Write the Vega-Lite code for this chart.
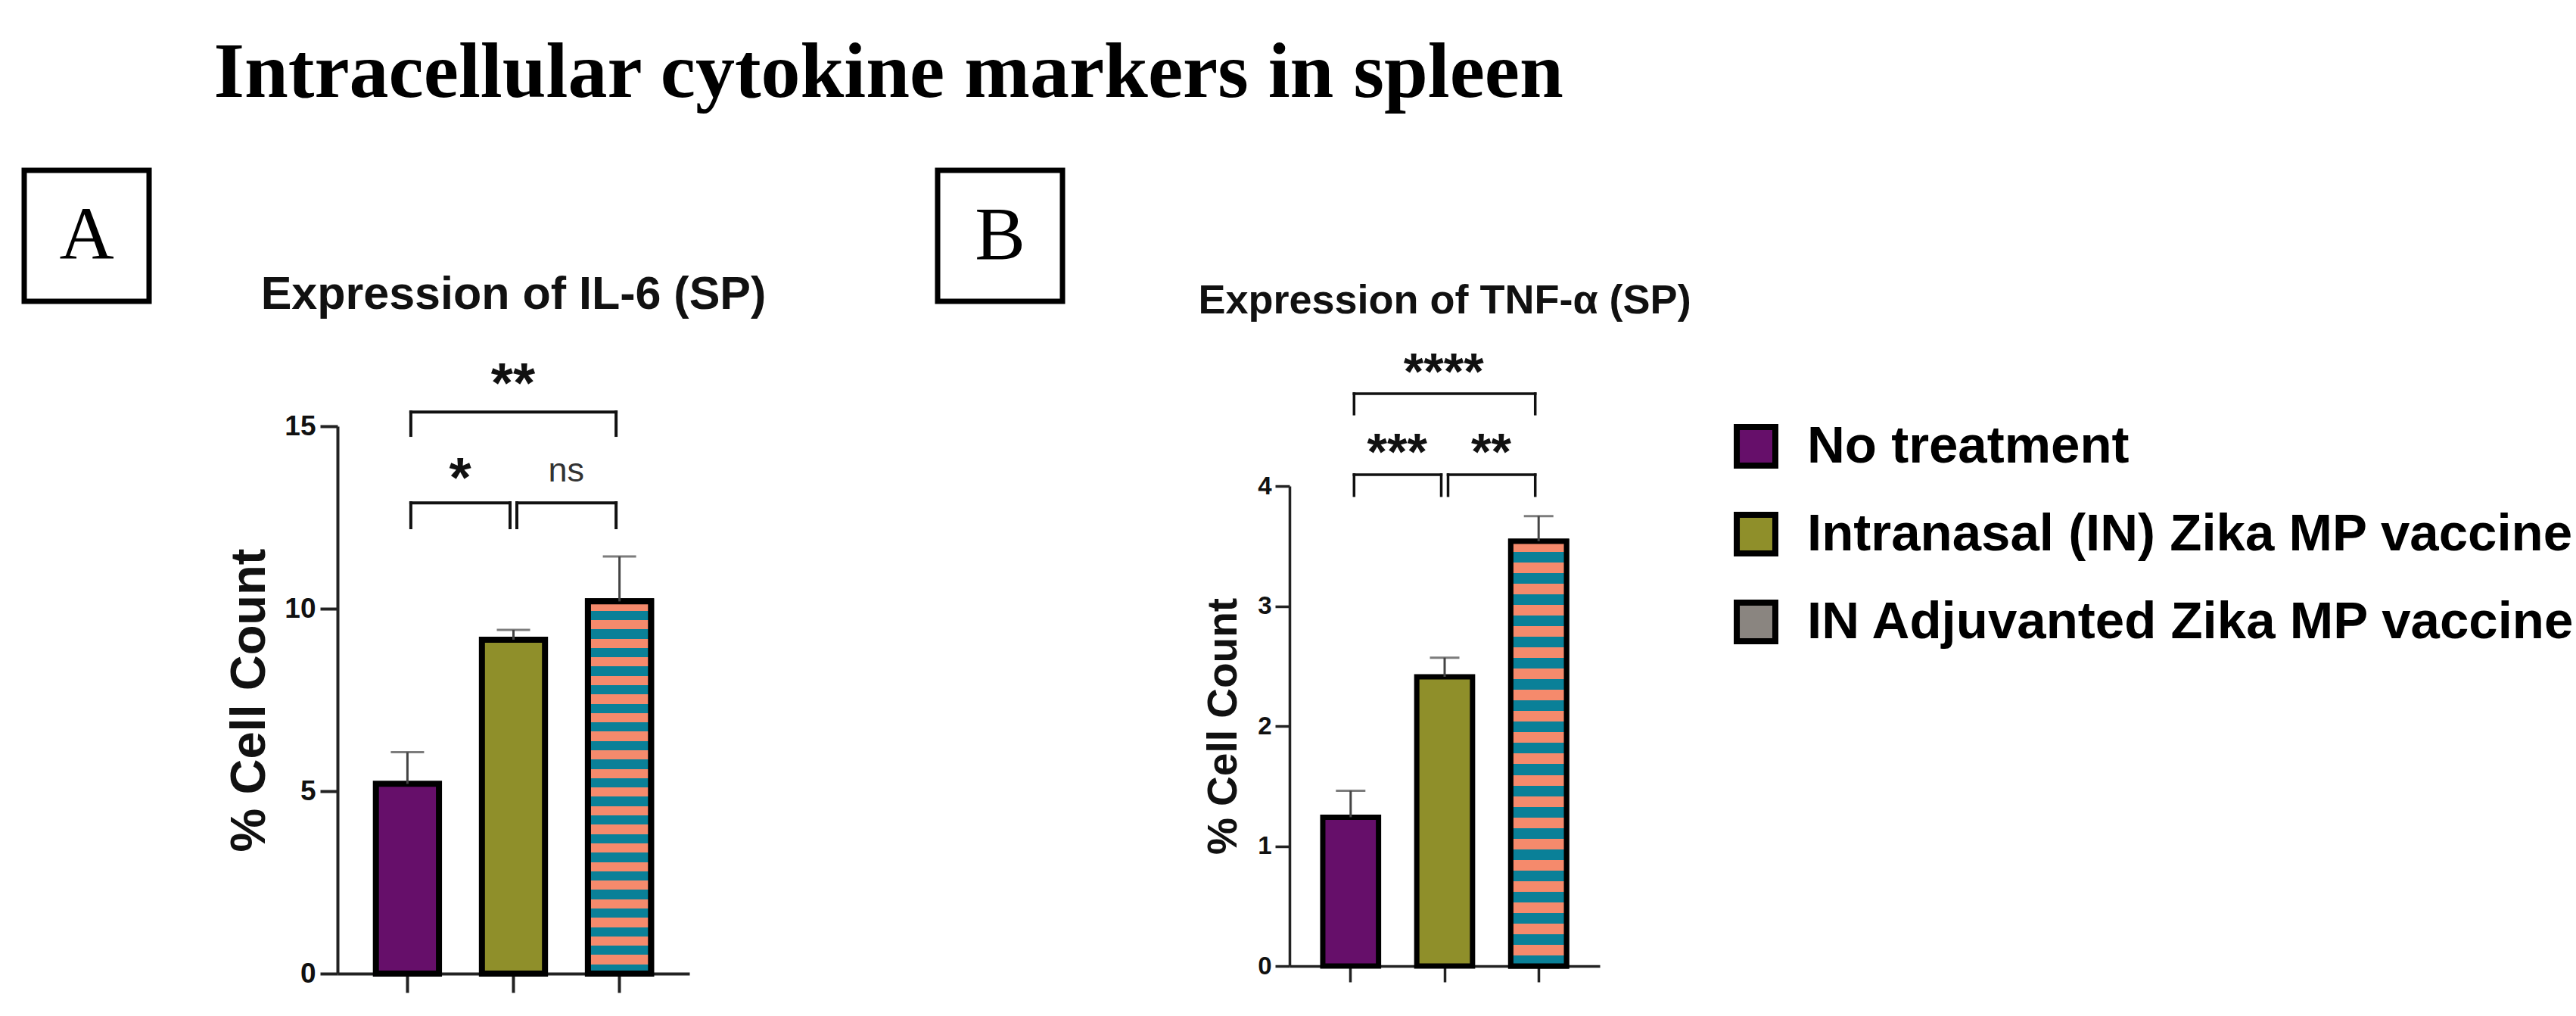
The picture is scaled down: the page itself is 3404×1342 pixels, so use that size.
{
  "$schema": "https://vega.github.io/schema/vega-lite/v6.json",
  "background": "white",
  "padding": {"left": 28, "top": 44, "right": 4, "bottom": 4},
  "config": {
    "view": {"stroke": null},
    "font": "Liberation Sans",
    "axis": {"grid": false, "labelFont": "Liberation Sans", "titleFont": "Liberation Sans", "labelColor": "#111", "titleColor": "#111", "domainColor": "#222", "tickColor": "#222"}
  },
  "title": {"text": "Intracellular cytokine markers in spleen", "font": "Liberation Serif", "fontSize": 104, "fontWeight": "bold", "color": "#000", "anchor": "start", "frame": "group", "dx": 250.5, "offset": 72},
  "datasets": {
    "barsA": [
      {"group": "No treatment", "mean": 5.2, "upper": 6.07},
      {"group": "Intranasal (IN) Zika MP vaccine", "mean": 9.15, "upper": 9.42},
      {"group": "IN Adjuvanted Zika MP vaccine", "mean": 10.2, "upper": 11.43}
    ],
    "barsB": [
      {"group": "No treatment", "mean": 1.24, "upper": 1.46},
      {"group": "Intranasal (IN) Zika MP vaccine", "mean": 2.41, "upper": 2.57},
      {"group": "IN Adjuvanted Zika MP vaccine", "mean": 3.54, "upper": 3.75}
    ],
    "brA": [
      {"g1": "No treatment", "g2": "Intranasal (IN) Zika MP vaccine", "y": 12.9, "lo": 12.22, "ty": 13.73, "label": "*", "span": 1},
      {"g1": "Intranasal (IN) Zika MP vaccine", "g2": "IN Adjuvanted Zika MP vaccine", "y": 12.9, "lo": 12.22, "ty": 13.73, "label": "ns", "span": 1},
      {"g1": "No treatment", "g2": "IN Adjuvanted Zika MP vaccine", "y": 15.39, "lo": 14.75, "ty": 16.33, "label": "**", "span": 2}
    ],
    "brB": [
      {"g1": "No treatment", "g2": "Intranasal (IN) Zika MP vaccine", "y": 4.095, "lo": 3.92, "ty": 4.33, "label": "***", "span": 1},
      {"g1": "Intranasal (IN) Zika MP vaccine", "g2": "IN Adjuvanted Zika MP vaccine", "y": 4.095, "lo": 3.92, "ty": 4.33, "label": "**", "span": 1},
      {"g1": "No treatment", "g2": "IN Adjuvanted Zika MP vaccine", "y": 4.77, "lo": 4.6, "ty": 5.0, "label": "****", "span": 2}
    ],
    "boxA": [{"label": "A"}],
    "boxB": [{"label": "B"}],
    "empty": []
  },
  "bounds": "flush",
  "spacing": 0,
  "hconcat": [
    {
      "width": 165, "height": 173,
      "view": {"stroke": "#000", "strokeWidth": 7},
      "data": {"name": "boxA"},
      "mark": {"type": "text", "font": "Liberation Serif", "fontSize": 100, "baseline": "middle", "align": "center", "color": "#000"},
      "encoding": {"text": {"field": "label"}}
    },
    {"width": 248.5, "height": 10, "data": {"name": "empty"}, "mark": "point"},
    {
      "bounds": "flush",
      "spacing": 0,
      "vconcat": [
        {"width": 10, "height": 337.5, "data": {"name": "empty"}, "mark": "point"},
        {
          "width": 465, "height": 723,
          "title": {"text": "Expression of IL-6 (SP)", "font": "Liberation Sans", "fontSize": 61, "fontWeight": "bold", "color": "#111", "anchor": "middle", "offset": 50},
          "layer": [
            {
              "data": {"name": "barsA"},
              "mark": {"type": "bar", "stroke": "#000", "strokeWidth": 8},
              "encoding": {
                "x": {"field": "group", "type": "nominal", "scale": {"domain": ["No treatment", "Intranasal (IN) Zika MP vaccine", "IN Adjuvanted Zika MP vaccine"], "paddingInner": 0.405, "paddingOuter": 0.362}, "axis": {"labels": false, "title": null, "tickSize": 25, "tickWidth": 4, "domainWidth": 4}},
                "y": {"field": "mean", "type": "quantitative", "scale": {"domain": [0, 15], "nice": false}, "axis": {"values": [0, 5, 10, 15], "tickSize": 23, "tickWidth": 4, "domainWidth": 4, "labelFontSize": 37, "labelFontWeight": "bold", "labelPadding": 6, "title": "% Cell Count", "titleFontSize": 65, "titleFontWeight": "bold", "titlePadding": 12}},
                "fill": {"field": "group", "type": "nominal", "scale": {"domain": ["No treatment", "Intranasal (IN) Zika MP vaccine", "IN Adjuvanted Zika MP vaccine"], "range": ["#660f6a", "#8f8f2a", "#8a8580"]},
                  "legend": {"orient": "none", "legendX": 2254, "legendY": 330, "title": null, "symbolType": "square", "symbolSize": 2600, "symbolStrokeColor": "#000", "symbolStrokeWidth": 8, "symbolOpacity": 1, "labelFontSize": 69, "labelFontWeight": "bold", "labelFont": "Liberation Sans", "labelColor": "#000", "labelOffset": 33, "rowPadding": 33, "padding": 0, "labelLimit": 0}}
              }
            },
            {
              "data": {"name": "barsA"},
              "transform": [{"filter": "datum.group == 'IN Adjuvanted Zika MP vaccine'"}],
              "mark": {"type": "bar", "stroke": "#000", "strokeWidth": 8, "fill": {"gradient": "linear", "x1": 0, "y1": 0, "x2": 0, "y2": 1, "stops": [
                {"offset": 0, "color": "#f58a6c"}, {"offset": 0.025, "color": "#f58a6c"}, {"offset": 0.025, "color": "#0a8098"}, {"offset": 0.05, "color": "#0a8098"},
                {"offset": 0.05, "color": "#f58a6c"}, {"offset": 0.075, "color": "#f58a6c"}, {"offset": 0.075, "color": "#0a8098"}, {"offset": 0.1, "color": "#0a8098"},
                {"offset": 0.1, "color": "#f58a6c"}, {"offset": 0.125, "color": "#f58a6c"}, {"offset": 0.125, "color": "#0a8098"}, {"offset": 0.15, "color": "#0a8098"},
                {"offset": 0.15, "color": "#f58a6c"}, {"offset": 0.175, "color": "#f58a6c"}, {"offset": 0.175, "color": "#0a8098"}, {"offset": 0.2, "color": "#0a8098"},
                {"offset": 0.2, "color": "#f58a6c"}, {"offset": 0.225, "color": "#f58a6c"}, {"offset": 0.225, "color": "#0a8098"}, {"offset": 0.25, "color": "#0a8098"},
                {"offset": 0.25, "color": "#f58a6c"}, {"offset": 0.275, "color": "#f58a6c"}, {"offset": 0.275, "color": "#0a8098"}, {"offset": 0.3, "color": "#0a8098"},
                {"offset": 0.3, "color": "#f58a6c"}, {"offset": 0.325, "color": "#f58a6c"}, {"offset": 0.325, "color": "#0a8098"}, {"offset": 0.35, "color": "#0a8098"},
                {"offset": 0.35, "color": "#f58a6c"}, {"offset": 0.375, "color": "#f58a6c"}, {"offset": 0.375, "color": "#0a8098"}, {"offset": 0.4, "color": "#0a8098"},
                {"offset": 0.4, "color": "#f58a6c"}, {"offset": 0.425, "color": "#f58a6c"}, {"offset": 0.425, "color": "#0a8098"}, {"offset": 0.45, "color": "#0a8098"},
                {"offset": 0.45, "color": "#f58a6c"}, {"offset": 0.475, "color": "#f58a6c"}, {"offset": 0.475, "color": "#0a8098"}, {"offset": 0.5, "color": "#0a8098"},
                {"offset": 0.5, "color": "#f58a6c"}, {"offset": 0.525, "color": "#f58a6c"}, {"offset": 0.525, "color": "#0a8098"}, {"offset": 0.55, "color": "#0a8098"},
                {"offset": 0.55, "color": "#f58a6c"}, {"offset": 0.575, "color": "#f58a6c"}, {"offset": 0.575, "color": "#0a8098"}, {"offset": 0.6, "color": "#0a8098"},
                {"offset": 0.6, "color": "#f58a6c"}, {"offset": 0.625, "color": "#f58a6c"}, {"offset": 0.625, "color": "#0a8098"}, {"offset": 0.65, "color": "#0a8098"},
                {"offset": 0.65, "color": "#f58a6c"}, {"offset": 0.675, "color": "#f58a6c"}, {"offset": 0.675, "color": "#0a8098"}, {"offset": 0.7, "color": "#0a8098"},
                {"offset": 0.7, "color": "#f58a6c"}, {"offset": 0.725, "color": "#f58a6c"}, {"offset": 0.725, "color": "#0a8098"}, {"offset": 0.75, "color": "#0a8098"},
                {"offset": 0.75, "color": "#f58a6c"}, {"offset": 0.775, "color": "#f58a6c"}, {"offset": 0.775, "color": "#0a8098"}, {"offset": 0.8, "color": "#0a8098"},
                {"offset": 0.8, "color": "#f58a6c"}, {"offset": 0.825, "color": "#f58a6c"}, {"offset": 0.825, "color": "#0a8098"}, {"offset": 0.85, "color": "#0a8098"},
                {"offset": 0.85, "color": "#f58a6c"}, {"offset": 0.875, "color": "#f58a6c"}, {"offset": 0.875, "color": "#0a8098"}, {"offset": 0.9, "color": "#0a8098"},
                {"offset": 0.9, "color": "#f58a6c"}, {"offset": 0.925, "color": "#f58a6c"}, {"offset": 0.925, "color": "#0a8098"}, {"offset": 0.95, "color": "#0a8098"},
                {"offset": 0.95, "color": "#f58a6c"}, {"offset": 0.975, "color": "#f58a6c"}, {"offset": 0.975, "color": "#0a8098"}, {"offset": 1, "color": "#0a8098"}
              ]}},
              "encoding": {
                "x": {"field": "group", "type": "nominal", "scale": {"domain": ["No treatment", "Intranasal (IN) Zika MP vaccine", "IN Adjuvanted Zika MP vaccine"], "paddingInner": 0.405, "paddingOuter": 0.362}, "axis": {"labels": false, "title": null, "tickSize": 25, "tickWidth": 4, "domainWidth": 4}},
                "y": {"field": "mean", "type": "quantitative", "scale": {"domain": [0, 15], "nice": false}, "axis": {"values": [0, 5, 10, 15], "tickSize": 23, "tickWidth": 4, "domainWidth": 4, "labelFontSize": 37, "labelFontWeight": "bold", "labelPadding": 6, "title": "% Cell Count", "titleFontSize": 65, "titleFontWeight": "bold", "titlePadding": 12}}
              }
            },
            {
              "data": {"name": "barsA"},
              "mark": {"type": "rule", "strokeWidth": 3, "color": "#444"},
              "encoding": {
                "x": {"field": "group", "type": "nominal", "scale": {"domain": ["No treatment", "Intranasal (IN) Zika MP vaccine", "IN Adjuvanted Zika MP vaccine"], "paddingInner": 0.405, "paddingOuter": 0.362}, "axis": {"labels": false, "title": null, "tickSize": 25, "tickWidth": 4, "domainWidth": 4}},
                "y": {"field": "mean", "type": "quantitative", "scale": {"domain": [0, 15], "nice": false}, "axis": {"values": [0, 5, 10, 15], "tickSize": 23, "tickWidth": 4, "domainWidth": 4, "labelFontSize": 37, "labelFontWeight": "bold", "labelPadding": 6, "title": "% Cell Count", "titleFontSize": 65, "titleFontWeight": "bold", "titlePadding": 12}},
                "y2": {"field": "upper"}
              }
            },
            {
              "data": {"name": "barsA"},
              "mark": {"type": "tick", "size": 44, "thickness": 3, "color": "#444"},
              "encoding": {
                "x": {"field": "group", "type": "nominal", "scale": {"domain": ["No treatment", "Intranasal (IN) Zika MP vaccine", "IN Adjuvanted Zika MP vaccine"], "paddingInner": 0.405, "paddingOuter": 0.362}, "axis": {"labels": false, "title": null, "tickSize": 25, "tickWidth": 4, "domainWidth": 4}},
                "y": {"field": "upper", "type": "quantitative", "scale": {"domain": [0, 15], "nice": false}, "axis": {"values": [0, 5, 10, 15], "tickSize": 23, "tickWidth": 4, "domainWidth": 4, "labelFontSize": 37, "labelFontWeight": "bold", "labelPadding": 6, "title": "% Cell Count", "titleFontSize": 65, "titleFontWeight": "bold", "titlePadding": 12}}
              }
            },
            {
              "data": {"name": "brA"},
              "mark": {"type": "rule", "strokeWidth": 4, "color": "#111", "strokeCap": "square", "xOffset": 4.5, "x2Offset": -4.5},
              "encoding": {
                "x": {"field": "g1", "type": "nominal", "scale": {"domain": ["No treatment", "Intranasal (IN) Zika MP vaccine", "IN Adjuvanted Zika MP vaccine"], "paddingInner": 0.405, "paddingOuter": 0.362}, "axis": {"labels": false, "title": null, "tickSize": 25, "tickWidth": 4, "domainWidth": 4}},
                "x2": {"field": "g2"},
                "y": {"field": "y", "type": "quantitative", "scale": {"domain": [0, 15], "nice": false}, "axis": {"values": [0, 5, 10, 15], "tickSize": 23, "tickWidth": 4, "domainWidth": 4, "labelFontSize": 37, "labelFontWeight": "bold", "labelPadding": 6, "title": "% Cell Count", "titleFontSize": 65, "titleFontWeight": "bold", "titlePadding": 12}}
              }
            },
            {
              "data": {"name": "brA"},
              "mark": {"type": "rule", "strokeWidth": 4, "color": "#111", "strokeCap": "square", "xOffset": 4.5},
              "encoding": {
                "x": {"field": "g1", "type": "nominal", "scale": {"domain": ["No treatment", "Intranasal (IN) Zika MP vaccine", "IN Adjuvanted Zika MP vaccine"], "paddingInner": 0.405, "paddingOuter": 0.362}, "axis": {"labels": false, "title": null, "tickSize": 25, "tickWidth": 4, "domainWidth": 4}},
                "y": {"field": "lo", "type": "quantitative", "scale": {"domain": [0, 15], "nice": false}, "axis": {"values": [0, 5, 10, 15], "tickSize": 23, "tickWidth": 4, "domainWidth": 4, "labelFontSize": 37, "labelFontWeight": "bold", "labelPadding": 6, "title": "% Cell Count", "titleFontSize": 65, "titleFontWeight": "bold", "titlePadding": 12}},
                "y2": {"field": "y"}
              }
            },
            {
              "data": {"name": "brA"},
              "mark": {"type": "rule", "strokeWidth": 4, "color": "#111", "strokeCap": "square", "xOffset": -4.5},
              "encoding": {
                "x": {"field": "g2", "type": "nominal", "scale": {"domain": ["No treatment", "Intranasal (IN) Zika MP vaccine", "IN Adjuvanted Zika MP vaccine"], "paddingInner": 0.405, "paddingOuter": 0.362}, "axis": {"labels": false, "title": null, "tickSize": 25, "tickWidth": 4, "domainWidth": 4}},
                "y": {"field": "lo", "type": "quantitative", "scale": {"domain": [0, 15], "nice": false}, "axis": {"values": [0, 5, 10, 15], "tickSize": 23, "tickWidth": 4, "domainWidth": 4, "labelFontSize": 37, "labelFontWeight": "bold", "labelPadding": 6, "title": "% Cell Count", "titleFontSize": 65, "titleFontWeight": "bold", "titlePadding": 12}},
                "y2": {"field": "y"}
              }
            },
            {
              "data": {"name": "brA"},
              "transform": [{"filter": "datum.span == 1 && datum.label != 'ns'"}],
              "mark": {"type": "text", "fontSize": 75, "fontWeight": "bold", "color": "#111", "align": "center", "baseline": "alphabetic", "dy": 32, "xOffset": 69.75},
              "encoding": {
                "x": {"field": "g1", "type": "nominal", "scale": {"domain": ["No treatment", "Intranasal (IN) Zika MP vaccine", "IN Adjuvanted Zika MP vaccine"], "paddingInner": 0.405, "paddingOuter": 0.362}, "axis": {"labels": false, "title": null, "tickSize": 25, "tickWidth": 4, "domainWidth": 4}},
                "y": {"field": "ty", "type": "quantitative", "scale": {"domain": [0, 15], "nice": false}, "axis": {"values": [0, 5, 10, 15], "tickSize": 23, "tickWidth": 4, "domainWidth": 4, "labelFontSize": 37, "labelFontWeight": "bold", "labelPadding": 6, "title": "% Cell Count", "titleFontSize": 65, "titleFontWeight": "bold", "titlePadding": 12}},
                "text": {"field": "label"}
              }
            },
            {
              "data": {"name": "brA"},
              "transform": [{"filter": "datum.label == 'ns'"}],
              "mark": {"type": "text", "fontSize": 45, "fontWeight": "normal", "color": "#333", "align": "center", "baseline": "alphabetic", "dy": 12, "xOffset": 69.75},
              "encoding": {
                "x": {"field": "g1", "type": "nominal", "scale": {"domain": ["No treatment", "Intranasal (IN) Zika MP vaccine", "IN Adjuvanted Zika MP vaccine"], "paddingInner": 0.405, "paddingOuter": 0.362}, "axis": {"labels": false, "title": null, "tickSize": 25, "tickWidth": 4, "domainWidth": 4}},
                "y": {"field": "ty", "type": "quantitative", "scale": {"domain": [0, 15], "nice": false}, "axis": {"values": [0, 5, 10, 15], "tickSize": 23, "tickWidth": 4, "domainWidth": 4, "labelFontSize": 37, "labelFontWeight": "bold", "labelPadding": 6, "title": "% Cell Count", "titleFontSize": 65, "titleFontWeight": "bold", "titlePadding": 12}},
                "text": {"field": "label"}
              }
            },
            {
              "data": {"name": "brA"},
              "transform": [{"filter": "datum.span == 2"}],
              "mark": {"type": "text", "fontSize": 75, "fontWeight": "bold", "color": "#111", "align": "center", "baseline": "alphabetic", "dy": 32, "xOffset": 139.5},
              "encoding": {
                "x": {"field": "g1", "type": "nominal", "scale": {"domain": ["No treatment", "Intranasal (IN) Zika MP vaccine", "IN Adjuvanted Zika MP vaccine"], "paddingInner": 0.405, "paddingOuter": 0.362}, "axis": {"labels": false, "title": null, "tickSize": 25, "tickWidth": 4, "domainWidth": 4}},
                "y": {"field": "ty", "type": "quantitative", "scale": {"domain": [0, 15], "nice": false}, "axis": {"values": [0, 5, 10, 15], "tickSize": 23, "tickWidth": 4, "domainWidth": 4, "labelFontSize": 37, "labelFontWeight": "bold", "labelPadding": 6, "title": "% Cell Count", "titleFontSize": 65, "titleFontWeight": "bold", "titlePadding": 12}},
                "text": {"field": "label"}
              }
            }
          ]
        }
      ]
    },
    {"width": 792.5, "height": 10, "data": {"name": "empty"}, "mark": "point"},
    {
      "width": 165, "height": 173,
      "view": {"stroke": "#000", "strokeWidth": 7},
      "data": {"name": "boxB"},
      "mark": {"type": "text", "font": "Liberation Serif", "fontSize": 100, "baseline": "middle", "align": "center", "color": "#000"},
      "encoding": {"text": {"field": "label"}}
    },
    {"width": 299.5, "height": 10, "data": {"name": "empty"}, "mark": "point"},
    {
      "bounds": "flush",
      "spacing": 0,
      "vconcat": [
        {"width": 10, "height": 416.5, "data": {"name": "empty"}, "mark": "point"},
        {
          "width": 410, "height": 634,
          "title": {"text": "Expression of TNF-α (SP)", "font": "Liberation Sans", "fontSize": 54, "fontWeight": "bold", "color": "#111", "anchor": "middle", "offset": 35},
          "layer": [
            {
              "data": {"name": "barsB"},
              "mark": {"type": "bar", "stroke": "#000", "strokeWidth": 7},
              "encoding": {
                "x": {"field": "group", "type": "nominal", "scale": {"domain": ["No treatment", "Intranasal (IN) Zika MP vaccine", "IN Adjuvanted Zika MP vaccine"], "paddingInner": 0.407, "paddingOuter": 0.354}, "axis": {"labels": false, "title": null, "tickSize": 21, "tickWidth": 3.5, "domainWidth": 3.5}},
                "y": {"field": "mean", "type": "quantitative", "scale": {"domain": [0, 4], "nice": false}, "axis": {"values": [0, 1, 2, 3, 4], "tickSize": 19, "tickWidth": 3.5, "domainWidth": 3.5, "labelFontSize": 33, "labelFontWeight": "bold", "labelPadding": 5, "title": "% Cell Count", "titleFontSize": 55, "titleFontWeight": "bold", "titlePadding": 16}},
                "fill": {"field": "group", "type": "nominal", "scale": {"domain": ["No treatment", "Intranasal (IN) Zika MP vaccine", "IN Adjuvanted Zika MP vaccine"], "range": ["#660f6a", "#8f8f2a", "#8a8580"]},
                  "legend": {"orient": "none", "legendX": 2254, "legendY": 330, "title": null, "symbolType": "square", "symbolSize": 2600, "symbolStrokeColor": "#000", "symbolStrokeWidth": 8, "symbolOpacity": 1, "labelFontSize": 69, "labelFontWeight": "bold", "labelFont": "Liberation Sans", "labelColor": "#000", "labelOffset": 33, "rowPadding": 33, "padding": 0, "labelLimit": 0}}
              }
            },
            {
              "data": {"name": "barsB"},
              "transform": [{"filter": "datum.group == 'IN Adjuvanted Zika MP vaccine'"}],
              "mark": {"type": "bar", "stroke": "#000", "strokeWidth": 7, "fill": {"gradient": "linear", "x1": 0, "y1": 0, "x2": 0, "y2": 1, "stops": [
                {"offset": 0, "color": "#f58a6c"}, {"offset": 0.025, "color": "#f58a6c"}, {"offset": 0.025, "color": "#0a8098"}, {"offset": 0.05, "color": "#0a8098"},
                {"offset": 0.05, "color": "#f58a6c"}, {"offset": 0.075, "color": "#f58a6c"}, {"offset": 0.075, "color": "#0a8098"}, {"offset": 0.1, "color": "#0a8098"},
                {"offset": 0.1, "color": "#f58a6c"}, {"offset": 0.125, "color": "#f58a6c"}, {"offset": 0.125, "color": "#0a8098"}, {"offset": 0.15, "color": "#0a8098"},
                {"offset": 0.15, "color": "#f58a6c"}, {"offset": 0.175, "color": "#f58a6c"}, {"offset": 0.175, "color": "#0a8098"}, {"offset": 0.2, "color": "#0a8098"},
                {"offset": 0.2, "color": "#f58a6c"}, {"offset": 0.225, "color": "#f58a6c"}, {"offset": 0.225, "color": "#0a8098"}, {"offset": 0.25, "color": "#0a8098"},
                {"offset": 0.25, "color": "#f58a6c"}, {"offset": 0.275, "color": "#f58a6c"}, {"offset": 0.275, "color": "#0a8098"}, {"offset": 0.3, "color": "#0a8098"},
                {"offset": 0.3, "color": "#f58a6c"}, {"offset": 0.325, "color": "#f58a6c"}, {"offset": 0.325, "color": "#0a8098"}, {"offset": 0.35, "color": "#0a8098"},
                {"offset": 0.35, "color": "#f58a6c"}, {"offset": 0.375, "color": "#f58a6c"}, {"offset": 0.375, "color": "#0a8098"}, {"offset": 0.4, "color": "#0a8098"},
                {"offset": 0.4, "color": "#f58a6c"}, {"offset": 0.425, "color": "#f58a6c"}, {"offset": 0.425, "color": "#0a8098"}, {"offset": 0.45, "color": "#0a8098"},
                {"offset": 0.45, "color": "#f58a6c"}, {"offset": 0.475, "color": "#f58a6c"}, {"offset": 0.475, "color": "#0a8098"}, {"offset": 0.5, "color": "#0a8098"},
                {"offset": 0.5, "color": "#f58a6c"}, {"offset": 0.525, "color": "#f58a6c"}, {"offset": 0.525, "color": "#0a8098"}, {"offset": 0.55, "color": "#0a8098"},
                {"offset": 0.55, "color": "#f58a6c"}, {"offset": 0.575, "color": "#f58a6c"}, {"offset": 0.575, "color": "#0a8098"}, {"offset": 0.6, "color": "#0a8098"},
                {"offset": 0.6, "color": "#f58a6c"}, {"offset": 0.625, "color": "#f58a6c"}, {"offset": 0.625, "color": "#0a8098"}, {"offset": 0.65, "color": "#0a8098"},
                {"offset": 0.65, "color": "#f58a6c"}, {"offset": 0.675, "color": "#f58a6c"}, {"offset": 0.675, "color": "#0a8098"}, {"offset": 0.7, "color": "#0a8098"},
                {"offset": 0.7, "color": "#f58a6c"}, {"offset": 0.725, "color": "#f58a6c"}, {"offset": 0.725, "color": "#0a8098"}, {"offset": 0.75, "color": "#0a8098"},
                {"offset": 0.75, "color": "#f58a6c"}, {"offset": 0.775, "color": "#f58a6c"}, {"offset": 0.775, "color": "#0a8098"}, {"offset": 0.8, "color": "#0a8098"},
                {"offset": 0.8, "color": "#f58a6c"}, {"offset": 0.825, "color": "#f58a6c"}, {"offset": 0.825, "color": "#0a8098"}, {"offset": 0.85, "color": "#0a8098"},
                {"offset": 0.85, "color": "#f58a6c"}, {"offset": 0.875, "color": "#f58a6c"}, {"offset": 0.875, "color": "#0a8098"}, {"offset": 0.9, "color": "#0a8098"},
                {"offset": 0.9, "color": "#f58a6c"}, {"offset": 0.925, "color": "#f58a6c"}, {"offset": 0.925, "color": "#0a8098"}, {"offset": 0.95, "color": "#0a8098"},
                {"offset": 0.95, "color": "#f58a6c"}, {"offset": 0.975, "color": "#f58a6c"}, {"offset": 0.975, "color": "#0a8098"}, {"offset": 1, "color": "#0a8098"}
              ]}},
              "encoding": {
                "x": {"field": "group", "type": "nominal", "scale": {"domain": ["No treatment", "Intranasal (IN) Zika MP vaccine", "IN Adjuvanted Zika MP vaccine"], "paddingInner": 0.407, "paddingOuter": 0.354}, "axis": {"labels": false, "title": null, "tickSize": 21, "tickWidth": 3.5, "domainWidth": 3.5}},
                "y": {"field": "mean", "type": "quantitative", "scale": {"domain": [0, 4], "nice": false}, "axis": {"values": [0, 1, 2, 3, 4], "tickSize": 19, "tickWidth": 3.5, "domainWidth": 3.5, "labelFontSize": 33, "labelFontWeight": "bold", "labelPadding": 5, "title": "% Cell Count", "titleFontSize": 55, "titleFontWeight": "bold", "titlePadding": 16}}
              }
            },
            {
              "data": {"name": "barsB"},
              "mark": {"type": "rule", "strokeWidth": 3, "color": "#444"},
              "encoding": {
                "x": {"field": "group", "type": "nominal", "scale": {"domain": ["No treatment", "Intranasal (IN) Zika MP vaccine", "IN Adjuvanted Zika MP vaccine"], "paddingInner": 0.407, "paddingOuter": 0.354}, "axis": {"labels": false, "title": null, "tickSize": 21, "tickWidth": 3.5, "domainWidth": 3.5}},
                "y": {"field": "mean", "type": "quantitative", "scale": {"domain": [0, 4], "nice": false}, "axis": {"values": [0, 1, 2, 3, 4], "tickSize": 19, "tickWidth": 3.5, "domainWidth": 3.5, "labelFontSize": 33, "labelFontWeight": "bold", "labelPadding": 5, "title": "% Cell Count", "titleFontSize": 55, "titleFontWeight": "bold", "titlePadding": 16}},
                "y2": {"field": "upper"}
              }
            },
            {
              "data": {"name": "barsB"},
              "mark": {"type": "tick", "size": 39, "thickness": 3, "color": "#444"},
              "encoding": {
                "x": {"field": "group", "type": "nominal", "scale": {"domain": ["No treatment", "Intranasal (IN) Zika MP vaccine", "IN Adjuvanted Zika MP vaccine"], "paddingInner": 0.407, "paddingOuter": 0.354}, "axis": {"labels": false, "title": null, "tickSize": 21, "tickWidth": 3.5, "domainWidth": 3.5}},
                "y": {"field": "upper", "type": "quantitative", "scale": {"domain": [0, 4], "nice": false}, "axis": {"values": [0, 1, 2, 3, 4], "tickSize": 19, "tickWidth": 3.5, "domainWidth": 3.5, "labelFontSize": 33, "labelFontWeight": "bold", "labelPadding": 5, "title": "% Cell Count", "titleFontSize": 55, "titleFontWeight": "bold", "titlePadding": 16}}
              }
            },
            {
              "data": {"name": "brB"},
              "mark": {"type": "rule", "strokeWidth": 3.5, "color": "#111", "strokeCap": "square", "xOffset": 4.5, "x2Offset": -4.5},
              "encoding": {
                "x": {"field": "g1", "type": "nominal", "scale": {"domain": ["No treatment", "Intranasal (IN) Zika MP vaccine", "IN Adjuvanted Zika MP vaccine"], "paddingInner": 0.407, "paddingOuter": 0.354}, "axis": {"labels": false, "title": null, "tickSize": 21, "tickWidth": 3.5, "domainWidth": 3.5}},
                "x2": {"field": "g2"},
                "y": {"field": "y", "type": "quantitative", "scale": {"domain": [0, 4], "nice": false}, "axis": {"values": [0, 1, 2, 3, 4], "tickSize": 19, "tickWidth": 3.5, "domainWidth": 3.5, "labelFontSize": 33, "labelFontWeight": "bold", "labelPadding": 5, "title": "% Cell Count", "titleFontSize": 55, "titleFontWeight": "bold", "titlePadding": 16}}
              }
            },
            {
              "data": {"name": "brB"},
              "mark": {"type": "rule", "strokeWidth": 3.5, "color": "#111", "strokeCap": "square", "xOffset": 4.5},
              "encoding": {
                "x": {"field": "g1", "type": "nominal", "scale": {"domain": ["No treatment", "Intranasal (IN) Zika MP vaccine", "IN Adjuvanted Zika MP vaccine"], "paddingInner": 0.407, "paddingOuter": 0.354}, "axis": {"labels": false, "title": null, "tickSize": 21, "tickWidth": 3.5, "domainWidth": 3.5}},
                "y": {"field": "lo", "type": "quantitative", "scale": {"domain": [0, 4], "nice": false}, "axis": {"values": [0, 1, 2, 3, 4], "tickSize": 19, "tickWidth": 3.5, "domainWidth": 3.5, "labelFontSize": 33, "labelFontWeight": "bold", "labelPadding": 5, "title": "% Cell Count", "titleFontSize": 55, "titleFontWeight": "bold", "titlePadding": 16}},
                "y2": {"field": "y"}
              }
            },
            {
              "data": {"name": "brB"},
              "mark": {"type": "rule", "strokeWidth": 3.5, "color": "#111", "strokeCap": "square", "xOffset": -4.5},
              "encoding": {
                "x": {"field": "g2", "type": "nominal", "scale": {"domain": ["No treatment", "Intranasal (IN) Zika MP vaccine", "IN Adjuvanted Zika MP vaccine"], "paddingInner": 0.407, "paddingOuter": 0.354}, "axis": {"labels": false, "title": null, "tickSize": 21, "tickWidth": 3.5, "domainWidth": 3.5}},
                "y": {"field": "lo", "type": "quantitative", "scale": {"domain": [0, 4], "nice": false}, "axis": {"values": [0, 1, 2, 3, 4], "tickSize": 19, "tickWidth": 3.5, "domainWidth": 3.5, "labelFontSize": 33, "labelFontWeight": "bold", "labelPadding": 5, "title": "% Cell Count", "titleFontSize": 55, "titleFontWeight": "bold", "titlePadding": 16}},
                "y2": {"field": "y"}
              }
            },
            {
              "data": {"name": "brB"},
              "transform": [{"filter": "datum.span == 1"}],
              "mark": {"type": "text", "fontSize": 68, "fontWeight": "bold", "color": "#111", "align": "center", "baseline": "alphabetic", "dy": 30, "xOffset": 61.5},
              "encoding": {
                "x": {"field": "g1", "type": "nominal", "scale": {"domain": ["No treatment", "Intranasal (IN) Zika MP vaccine", "IN Adjuvanted Zika MP vaccine"], "paddingInner": 0.407, "paddingOuter": 0.354}, "axis": {"labels": false, "title": null, "tickSize": 21, "tickWidth": 3.5, "domainWidth": 3.5}},
                "y": {"field": "ty", "type": "quantitative", "scale": {"domain": [0, 4], "nice": false}, "axis": {"values": [0, 1, 2, 3, 4], "tickSize": 19, "tickWidth": 3.5, "domainWidth": 3.5, "labelFontSize": 33, "labelFontWeight": "bold", "labelPadding": 5, "title": "% Cell Count", "titleFontSize": 55, "titleFontWeight": "bold", "titlePadding": 16}},
                "text": {"field": "label"}
              }
            },
            {
              "data": {"name": "brB"},
              "transform": [{"filter": "datum.span == 2"}],
              "mark": {"type": "text", "fontSize": 68, "fontWeight": "bold", "color": "#111", "align": "center", "baseline": "alphabetic", "dy": 30, "xOffset": 123},
              "encoding": {
                "x": {"field": "g1", "type": "nominal", "scale": {"domain": ["No treatment", "Intranasal (IN) Zika MP vaccine", "IN Adjuvanted Zika MP vaccine"], "paddingInner": 0.407, "paddingOuter": 0.354}, "axis": {"labels": false, "title": null, "tickSize": 21, "tickWidth": 3.5, "domainWidth": 3.5}},
                "y": {"field": "ty", "type": "quantitative", "scale": {"domain": [0, 4], "nice": false}, "axis": {"values": [0, 1, 2, 3, 4], "tickSize": 19, "tickWidth": 3.5, "domainWidth": 3.5, "labelFontSize": 33, "labelFontWeight": "bold", "labelPadding": 5, "title": "% Cell Count", "titleFontSize": 55, "titleFontWeight": "bold", "titlePadding": 16}},
                "text": {"field": "label"}
              }
            }
          ]
        }
      ]
    }
  ]
}
